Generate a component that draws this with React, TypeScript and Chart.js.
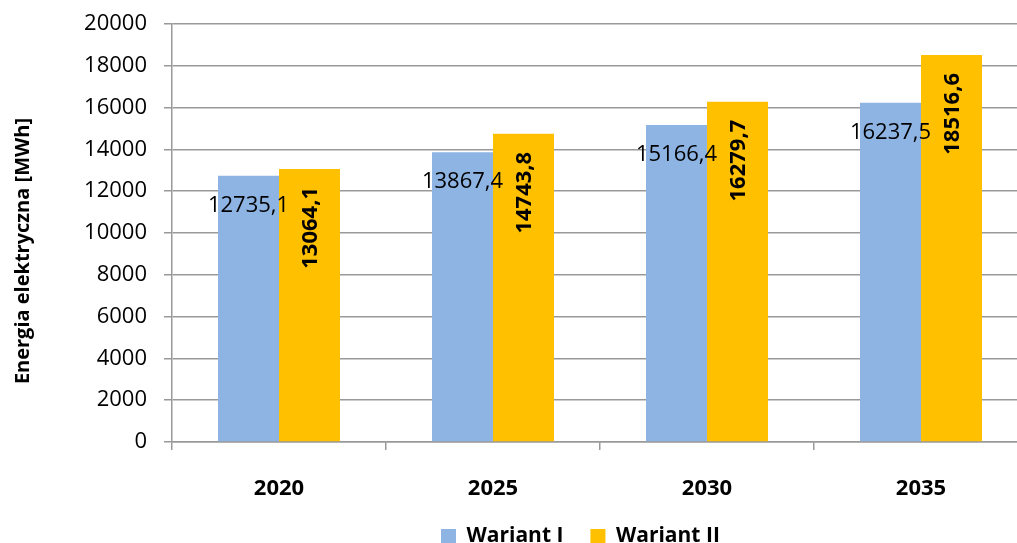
import React, { useEffect, useRef } from "react";
import { Chart, registerables } from "chart.js";

Chart.register(...registerables);

const categories = ["2020", "2025", "2030", "2035"];
const seriesNames = ["Wariant I", "Wariant II"];
const wariantI = [12735.1, 13867.4, 15166.4, 16237.5];
const wariantII = [13064.1, 14743.8, 16279.7, 18516.6];
const yMin = 0;
const yMax = 20000;
const yStep = 2000;
const axisTitle = "Energia elektryczna [MWh]";

const FONT = "'Open Sans', 'DejaVu Sans', sans-serif";
const FS = 22;
const LEGEND_FS = 21;

const fmt = (v: number) => v.toFixed(1).replace(".", ",");

const labelPlugin = {
  id: "barLabels",
  afterDatasetsDraw(chart: any) {
    const ctx = chart.ctx;
    chart.data.datasets.forEach((ds: any, di: number) => {
      const meta = chart.getDatasetMeta(di);
      meta.data.forEach((bar: any, i: number) => {
        const v = ds.data[i] as number;
        const x = bar.x;
        const y = bar.y;
        ctx.save();
        ctx.fillStyle = "#000";
        if (di === 0) {
          ctx.font = `normal ${FS}px ${FONT}`;
          ctx.textAlign = "center";
          ctx.textBaseline = "middle";
          ctx.fillText(fmt(v), x, y + 30);
        } else {
          ctx.font = `bold ${FS}px ${FONT}`;
          ctx.translate(x + 1, y + 18);
          ctx.rotate(-Math.PI / 2);
          ctx.textAlign = "right";
          ctx.textBaseline = "middle";
          ctx.fillText(fmt(v), 0, 0);
        }
        ctx.restore();
      });
    });
  },
};

const layoutTweaks = {
  id: "layoutTweaks",
  afterLayout(chart: any) {
    const lg = chart.legend;
    if (lg) {
      const pad = lg.options.labels.padding;
      const lw = lg.lineWidths ? lg.lineWidths[0] : 0;
      const w = lg.right - lg.left;
      const left = (2 * 441 - pad - w + lw) / 2;
      lg.left = left;
      lg.right = left + w;
      lg.top = 536.5 - pad - LEGEND_FS / 2;
      lg.bottom = 600;
    }
    const ys = chart.scales.y;
    if (ys && !ys._titleWrapped) {
      const orig = ys.drawTitle.bind(ys);
      ys.drawTitle = () => {
        const t = ys.top;
        const b = ys.bottom;
        ys.top = t + 18;
        ys.bottom = b + 18;
        orig();
        ys.top = t;
        ys.bottom = b;
      };
      ys._titleWrapped = true;
    }
  },
};

export default function App() {
  const ref = useRef<HTMLCanvasElement | null>(null);
  useEffect(() => {
    if (!ref.current) return;
    const chart = new Chart(ref.current, {
      type: "bar",
      data: {
        labels: categories,
        datasets: [
          {
            label: seriesNames[0],
            data: wariantI,
            backgroundColor: "#8EB4E3",
            borderWidth: 0,
          },
          {
            label: seriesNames[1],
            data: wariantII,
            backgroundColor: "#FFC000",
            borderWidth: 0,
          },
        ],
      },
      options: {
        animation: false,
        responsive: true,
        maintainAspectRatio: false,
        layout: { padding: { top: 24, right: 12, bottom: 0, left: 0 } },
        datasets: {
          bar: { categoryPercentage: 0.57, barPercentage: 1 },
        },
        plugins: {
          tooltip: { enabled: false },
          legend: {
            position: "bottom",
            maxHeight: 40,
            labels: {
              boxWidth: 15,
              boxHeight: 15,
              padding: 27,
              color: "#000",
              font: { family: FONT, size: LEGEND_FS, weight: "bold" },
            },
          },
        },
        scales: {
          x: {
            grid: {
              display: true,
              offset: true,
              drawOnChartArea: false,
              drawTicks: true,
              tickLength: 8,
              color: "#999999",
              lineWidth: 1.5,
            },
            border: { display: true, color: "#999999", width: 1.5 },
            ticks: {
              color: "#000",
              padding: 26,
              font: { family: FONT, size: FS, weight: "bold" },
            },
            afterFit: (s: any) => {
              s.height = 61;
            },
          },
          y: {
            min: yMin,
            max: yMax,
            grid: {
              color: "#999999",
              lineWidth: 1.5,
              tickLength: 8,
            },
            border: { display: true, color: "#999999", width: 1.5 },
            ticks: {
              stepSize: yStep,
              color: "#000",
              padding: 17,
              font: { family: FONT, size: FS },
              callback: (v: any) => String(v),
            },
            title: {
              display: true,
              text: axisTitle,
              color: "#000",
              padding: { top: 11, bottom: 0 },
              font: { family: FONT, size: 20, weight: "bold" },
            },
            afterFit: (s: any) => {
              s.width = 172;
              s.paddingTop = 0;
              s.paddingBottom = 0;
            },
          },
        },
      },
      plugins: [labelPlugin, layoutTweaks],
    });
    return () => chart.destroy();
  }, []);

  return (
    <div
      style={{
        position: "absolute",
        left: 0,
        top: 0,
        width: 1017,
        height: 543,
        overflow: "hidden",
        background: "#fff",
      }}
    >
      <div style={{ width: 1040, height: 543, position: "relative" }}>
        <canvas ref={ref} />
      </div>
    </div>
  );
}
